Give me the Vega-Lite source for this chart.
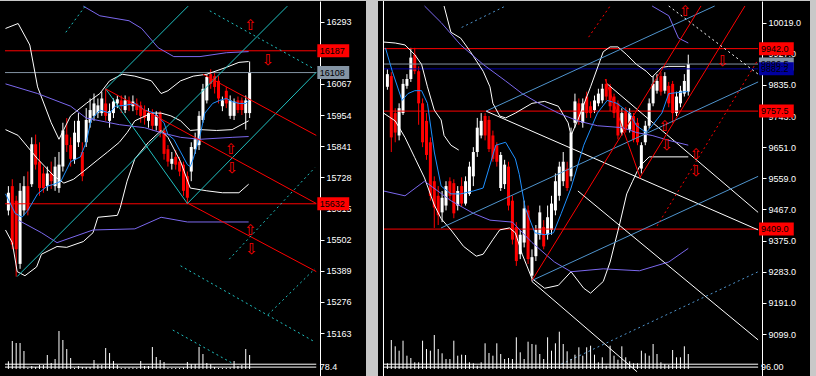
{
"$schema": "https://vega.github.io/schema/vega-lite/v6.json",
"background": "#c8c8c8",
"padding": {"left": 0, "top": 0, "right": 6, "bottom": 0},
"spacing": 12,
"config": {"view": {"fill": "#000000", "stroke": null}, "axis": {"labelOverlap": false, "labelBound": false, "labelFlush": false}},
"datasets": {
"L": [
{"i":0,"o":15608,"h":15696,"l":15590,"c":15672,"v":770},
{"i":1,"o":15696,"h":15721,"l":15467,"c":15484,"v":2800},
{"i":2,"o":15643,"h":15661,"l":15368,"c":15467,"v":2600},
{"i":3,"o":15414,"h":15707,"l":15396,"c":15679,"v":2600},
{"i":4,"o":15608,"h":15732,"l":15590,"c":15696,"v":1800},
{"i":5,"o":15696,"h":15749,"l":15590,"c":15608,"v":100},
{"i":6,"o":15703,"h":15873,"l":15693,"c":15848,"v":300},
{"i":7,"o":15848,"h":15883,"l":15756,"c":15774,"v":200},
{"i":8,"o":15785,"h":15855,"l":15661,"c":15689,"v":400},
{"i":9,"o":15742,"h":15767,"l":15672,"c":15689,"v":400},
{"i":10,"o":15696,"h":15767,"l":15679,"c":15742,"v":1400},
{"i":11,"o":15742,"h":15785,"l":15686,"c":15714,"v":600},
{"i":12,"o":15696,"h":15802,"l":15679,"c":15767,"v":1000},
{"i":13,"o":15689,"h":15820,"l":15672,"c":15774,"v":3800},
{"i":14,"o":15767,"h":15926,"l":15749,"c":15898,"v":2900},
{"i":15,"o":15883,"h":15943,"l":15820,"c":15845,"v":2000},
{"i":16,"o":15845,"h":15873,"l":15767,"c":15795,"v":1100},
{"i":17,"o":15792,"h":15933,"l":15777,"c":15890,"v":100},
{"i":18,"o":15855,"h":15961,"l":15838,"c":15933,"v":300},
{"i":19,"o":15820,"h":15855,"l":15714,"c":15732,"v":200},
{"i":20,"o":15855,"h":15979,"l":15838,"c":15936,"v":200},
{"i":21,"o":15926,"h":16014,"l":15908,"c":15972,"v":200},
{"i":22,"o":15951,"h":16032,"l":15933,"c":15996,"v":900},
{"i":23,"o":15961,"h":16014,"l":15943,"c":15989,"v":400},
{"i":24,"o":15961,"h":16039,"l":15951,"c":16014,"v":400},
{"i":25,"o":15996,"h":16049,"l":15933,"c":15951,"v":2100},
{"i":26,"o":15933,"h":15996,"l":15908,"c":15968,"v":1600},
{"i":27,"o":15961,"h":16014,"l":15943,"c":16003,"v":800},
{"i":28,"o":15996,"h":16025,"l":15979,"c":16011,"v":400},
{"i":29,"o":16007,"h":16025,"l":15961,"c":15986,"v":100},
{"i":30,"o":15972,"h":16025,"l":15961,"c":16007,"v":130},
{"i":31,"o":16007,"h":16021,"l":15968,"c":15989,"v":130},
{"i":32,"o":15986,"h":16025,"l":15968,"c":16003,"v":130},
{"i":33,"o":15996,"h":16014,"l":15954,"c":15972,"v":100},
{"i":34,"o":15989,"h":16003,"l":15926,"c":15951,"v":800},
{"i":35,"o":15972,"h":15989,"l":15919,"c":15943,"v":300},
{"i":36,"o":15933,"h":15979,"l":15908,"c":15961,"v":300},
{"i":37,"o":15961,"h":15975,"l":15898,"c":15915,"v":2200},
{"i":38,"o":15915,"h":15968,"l":15898,"c":15954,"v":1200},
{"i":39,"o":15961,"h":15968,"l":15873,"c":15890,"v":900},
{"i":40,"o":15898,"h":15908,"l":15792,"c":15813,"v":700},
{"i":41,"o":15830,"h":15845,"l":15767,"c":15785,"v":100},
{"i":42,"o":15777,"h":15820,"l":15756,"c":15795,"v":100},
{"i":43,"o":15802,"h":15827,"l":15756,"c":15774,"v":100},
{"i":44,"o":15785,"h":15802,"l":15732,"c":15749,"v":100},
{"i":45,"o":15774,"h":15785,"l":15661,"c":15679,"v":150},
{"i":46,"o":15732,"h":15749,"l":15633,"c":15654,"v":700},
{"i":47,"o":15749,"h":15855,"l":15714,"c":15838,"v":500},
{"i":48,"o":15830,"h":15890,"l":15813,"c":15866,"v":500},
{"i":49,"o":15845,"h":15968,"l":15827,"c":15951,"v":2200},
{"i":50,"o":15936,"h":16067,"l":15926,"c":16049,"v":1500},
{"i":51,"o":16007,"h":16102,"l":15996,"c":16092,"v":600},
{"i":52,"o":16102,"h":16120,"l":16049,"c":16067,"v":500},
{"i":53,"o":16095,"h":16109,"l":16032,"c":16056,"v":200},
{"i":54,"o":16078,"h":16095,"l":15996,"c":16014,"v":100},
{"i":55,"o":15986,"h":16021,"l":15968,"c":16007,"v":100},
{"i":56,"o":16042,"h":16056,"l":15979,"c":15996,"v":100},
{"i":57,"o":15951,"h":16025,"l":15940,"c":16007,"v":150},
{"i":58,"o":15951,"h":16014,"l":15936,"c":16003,"v":800},
{"i":59,"o":16007,"h":16021,"l":15961,"c":15972,"v":300},
{"i":60,"o":16007,"h":16018,"l":15954,"c":15972,"v":400},
{"i":61,"o":15961,"h":16025,"l":15901,"c":16007,"v":2000},
{"i":62,"o":15961,"h":16148,"l":15943,"c":16108,"v":1400}
],
"R": [
{"i":0,"o":9829.3,"h":9881.0,"l":9820.6,"c":9866.6,"v":570},
{"i":1,"o":9860.9,"h":9872.4,"l":9636.6,"c":9679.8,"v":2900},
{"i":2,"o":9751.6,"h":9766.0,"l":9665.4,"c":9694.1,"v":2270},
{"i":3,"o":9685.5,"h":9780.4,"l":9671.1,"c":9766.0,"v":1830},
{"i":4,"o":9751.6,"h":9852.3,"l":9745.9,"c":9837.9,"v":2830},
{"i":5,"o":9832.1,"h":9866.6,"l":9823.5,"c":9852.3,"v":1330},
{"i":6,"o":9852.3,"h":9944.3,"l":9843.6,"c":9915.5,"v":1100},
{"i":7,"o":9924.1,"h":9944.3,"l":9866.6,"c":9875.3,"v":670},
{"i":8,"o":9875.3,"h":9889.6,"l":9717.1,"c":9780.4,"v":670},
{"i":9,"o":9780.4,"h":9794.8,"l":9651.0,"c":9665.4,"v":2830},
{"i":10,"o":9728.6,"h":9751.6,"l":9613.6,"c":9628.0,"v":2000},
{"i":11,"o":9665.4,"h":9679.8,"l":9492.9,"c":9507.3,"v":1830},
{"i":12,"o":9550.4,"h":9564.8,"l":9412.4,"c":9472.8,"v":3400},
{"i":13,"o":9507.3,"h":9536.0,"l":9421.0,"c":9449.8,"v":2000},
{"i":14,"o":9458.4,"h":9521.6,"l":9429.6,"c":9501.5,"v":1570},
{"i":15,"o":9478.5,"h":9550.4,"l":9464.1,"c":9536.0,"v":1000},
{"i":16,"o":9550.4,"h":9561.9,"l":9492.9,"c":9507.3,"v":1000},
{"i":17,"o":9544.6,"h":9556.1,"l":9441.1,"c":9455.5,"v":2830},
{"i":18,"o":9478.5,"h":9536.0,"l":9464.1,"c":9521.6,"v":1330},
{"i":19,"o":9536.0,"h":9561.9,"l":9475.6,"c":9484.3,"v":1430},
{"i":20,"o":9484.3,"h":9564.8,"l":9478.5,"c":9550.4,"v":1400},
{"i":21,"o":9513.0,"h":9607.9,"l":9507.3,"c":9593.5,"v":670},
{"i":22,"o":9564.8,"h":9651.0,"l":9536.0,"c":9636.6,"v":570},
{"i":23,"o":9636.6,"h":9737.3,"l":9622.3,"c":9708.5,"v":330},
{"i":24,"o":9685.5,"h":9751.6,"l":9676.9,"c":9728.6,"v":670},
{"i":25,"o":9743.0,"h":9751.6,"l":9671.1,"c":9685.5,"v":2570},
{"i":26,"o":9731.5,"h":9743.0,"l":9636.6,"c":9645.3,"v":1600},
{"i":27,"o":9685.5,"h":9699.9,"l":9607.9,"c":9616.5,"v":1330},
{"i":28,"o":9656.8,"h":9665.4,"l":9593.5,"c":9607.9,"v":2570},
{"i":29,"o":9530.3,"h":9636.6,"l":9521.6,"c":9628.0,"v":1500},
{"i":30,"o":9541.8,"h":9613.6,"l":9527.4,"c":9599.3,"v":1000},
{"i":31,"o":9593.5,"h":9607.9,"l":9464.1,"c":9478.5,"v":1100},
{"i":32,"o":9492.9,"h":9507.3,"l":9363.5,"c":9377.9,"v":1000},
{"i":33,"o":9415.3,"h":9429.6,"l":9300.3,"c":9314.6,"v":3170},
{"i":34,"o":9334.8,"h":9406.6,"l":9320.4,"c":9392.3,"v":1670},
{"i":35,"o":9369.3,"h":9492.9,"l":9354.9,"c":9469.9,"v":1000},
{"i":36,"o":9464.1,"h":9478.5,"l":9306.0,"c":9320.4,"v":2730},
{"i":37,"o":9271.5,"h":9349.1,"l":9254.3,"c":9326.1,"v":2500},
{"i":38,"o":9329.0,"h":9421.0,"l":9314.6,"c":9406.6,"v":2430},
{"i":39,"o":9392.3,"h":9478.5,"l":9377.9,"c":9458.4,"v":1500},
{"i":40,"o":9415.3,"h":9435.4,"l":9349.1,"c":9357.8,"v":1000},
{"i":41,"o":9392.3,"h":9478.5,"l":9377.9,"c":9444.0,"v":3170},
{"i":42,"o":9406.6,"h":9507.3,"l":9392.3,"c":9484.3,"v":1830},
{"i":43,"o":9464.1,"h":9573.4,"l":9449.8,"c":9550.4,"v":2570},
{"i":44,"o":9507.3,"h":9607.9,"l":9492.9,"c":9593.5,"v":3730},
{"i":45,"o":9550.4,"h":9636.6,"l":9536.0,"c":9607.9,"v":2500},
{"i":46,"o":9587.8,"h":9607.9,"l":9521.6,"c":9530.3,"v":1770},
{"i":47,"o":9564.8,"h":9708.5,"l":9550.4,"c":9694.1,"v":1000},
{"i":48,"o":9722.9,"h":9809.1,"l":9708.5,"c":9786.1,"v":1430},
{"i":49,"o":9780.4,"h":9794.8,"l":9717.1,"c":9731.5,"v":2170},
{"i":50,"o":9722.9,"h":9794.8,"l":9708.5,"c":9780.4,"v":1330},
{"i":51,"o":9800.5,"h":9814.9,"l":9737.3,"c":9751.6,"v":2170},
{"i":52,"o":9771.8,"h":9786.1,"l":9737.3,"c":9751.6,"v":2330},
{"i":53,"o":9760.3,"h":9803.4,"l":9751.6,"c":9789.0,"v":1430},
{"i":54,"o":9780.4,"h":9823.5,"l":9771.8,"c":9809.1,"v":670},
{"i":55,"o":9789.0,"h":9837.9,"l":9780.4,"c":9823.5,"v":1170},
{"i":56,"o":9837.9,"h":9852.3,"l":9789.0,"c":9800.5,"v":330},
{"i":57,"o":9829.3,"h":9837.9,"l":9757.4,"c":9771.8,"v":2330},
{"i":58,"o":9800.5,"h":9809.1,"l":9737.3,"c":9751.6,"v":1330},
{"i":59,"o":9780.4,"h":9789.0,"l":9674.0,"c":9685.5,"v":930},
{"i":60,"o":9694.1,"h":9766.0,"l":9685.5,"c":9751.6,"v":2270},
{"i":61,"o":9757.4,"h":9768.9,"l":9694.1,"c":9702.8,"v":1170},
{"i":62,"o":9702.8,"h":9766.0,"l":9694.1,"c":9751.6,"v":770},
{"i":63,"o":9743.0,"h":9751.6,"l":9665.4,"c":9674.0,"v":570},
{"i":64,"o":9722.9,"h":9737.3,"l":9656.8,"c":9665.4,"v":570},
{"i":65,"o":9587.8,"h":9665.4,"l":9573.4,"c":9656.8,"v":1830},
{"i":66,"o":9665.4,"h":9728.6,"l":9656.8,"c":9714.3,"v":1570},
{"i":67,"o":9714.3,"h":9794.8,"l":9705.6,"c":9780.4,"v":1330},
{"i":68,"o":9780.4,"h":9860.9,"l":9771.8,"c":9837.9,"v":2500},
{"i":69,"o":9817.8,"h":9866.6,"l":9809.1,"c":9846.5,"v":1500},
{"i":70,"o":9860.9,"h":9872.4,"l":9803.4,"c":9814.9,"v":670},
{"i":71,"o":9817.8,"h":9872.4,"l":9809.1,"c":9860.9,"v":500},
{"i":72,"o":9832.1,"h":9843.6,"l":9768.9,"c":9780.4,"v":400},
{"i":73,"o":9837.9,"h":9846.5,"l":9722.9,"c":9751.6,"v":1900},
{"i":74,"o":9751.6,"h":9814.9,"l":9743.0,"c":9800.5,"v":1170},
{"i":75,"o":9780.4,"h":9832.1,"l":9768.9,"c":9817.8,"v":1170},
{"i":76,"o":9809.1,"h":9866.6,"l":9800.5,"c":9846.5,"v":2270},
{"i":77,"o":9814.9,"h":9924.1,"l":9803.4,"c":9896.5,"v":1500}
],
"LL": [
{"g":"U","k":"w","i":-0.75,"p":16268},{"g":"U","k":"w","i":2.5,"p":16286},{"g":"U","k":"w","i":5.5,"p":16208},{"g":"U","k":"w","i":7.5,"p":16056},{"g":"U","k":"w","i":11,"p":15926},{"g":"U","k":"w","i":13,"p":15866},{"g":"U","k":"w","i":16,"p":15951},{"g":"U","k":"w","i":20,"p":15996},{"g":"U","k":"w","i":23.5,"p":16032},{"g":"U","k":"w","i":26,"p":16078},{"g":"U","k":"w","i":29.25,"p":16102},{"g":"U","k":"w","i":32.5,"p":16095},{"g":"U","k":"w","i":36.75,"p":16078},{"g":"U","k":"w","i":39.25,"p":16032},{"g":"U","k":"w","i":41,"p":16042},{"g":"U","k":"w","i":44.25,"p":16078},{"g":"U","k":"w","i":47.5,"p":16095},{"g":"U","k":"w","i":51,"p":16102},{"g":"U","k":"w","i":56,"p":16127},{"g":"U","k":"w","i":59.25,"p":16145},{"g":"U","k":"w","i":61.75,"p":16148},
{"g":"M","k":"w","i":-0.75,"p":15901},{"g":"M","k":"w","i":2.5,"p":15880},{"g":"M","k":"w","i":7.5,"p":15795},{"g":"M","k":"w","i":11.75,"p":15732},{"g":"M","k":"w","i":14.25,"p":15707},{"g":"M","k":"w","i":16.75,"p":15721},{"g":"M","k":"w","i":19.25,"p":15749},{"g":"M","k":"w","i":23,"p":15792},{"g":"M","k":"w","i":25.5,"p":15820},{"g":"M","k":"w","i":28.5,"p":15855},{"g":"M","k":"w","i":30.5,"p":15890},{"g":"M","k":"w","i":32.5,"p":15933},{"g":"M","k":"w","i":36.75,"p":15961},{"g":"M","k":"w","i":39.25,"p":15961},{"g":"M","k":"w","i":41.75,"p":15951},{"g":"M","k":"w","i":44.25,"p":15933},{"g":"M","k":"w","i":46.75,"p":15898},{"g":"M","k":"w","i":49.25,"p":15901},{"g":"M","k":"w","i":53.5,"p":15898},{"g":"M","k":"w","i":57.5,"p":15901},{"g":"M","k":"w","i":61.75,"p":15933},
{"g":"L","k":"w","i":-0.75,"p":15537},{"g":"L","k":"w","i":1,"p":15491},{"g":"L","k":"w","i":2.25,"p":15386},{"g":"L","k":"w","i":4.25,"p":15371},{"g":"L","k":"w","i":7.25,"p":15403},{"g":"L","k":"w","i":8.5,"p":15449},{"g":"L","k":"w","i":12.5,"p":15477},{"g":"L","k":"w","i":15,"p":15474},{"g":"L","k":"w","i":19.25,"p":15495},{"g":"L","k":"w","i":21.75,"p":15527},{"g":"L","k":"w","i":23,"p":15583},{"g":"L","k":"w","i":28,"p":15590},{"g":"L","k":"w","i":28.75,"p":15618},{"g":"L","k":"w","i":30.5,"p":15714},{"g":"L","k":"w","i":32.5,"p":15795},{"g":"L","k":"w","i":36,"p":15855},{"g":"L","k":"w","i":39.25,"p":15898},{"g":"L","k":"w","i":41,"p":15873},{"g":"L","k":"w","i":44.25,"p":15785},{"g":"L","k":"w","i":46.75,"p":15689},{"g":"L","k":"w","i":51,"p":15679},{"g":"L","k":"w","i":55,"p":15672},{"g":"L","k":"w","i":59.25,"p":15672},{"g":"L","k":"w","i":61.75,"p":15703},
{"g":"B","k":"b","i":-0.75,"p":15668},{"g":"B","k":"b","i":1.75,"p":15597},{"g":"B","k":"b","i":3.5,"p":15583},{"g":"B","k":"b","i":5,"p":15608},{"g":"B","k":"b","i":7.5,"p":15668},{"g":"B","k":"b","i":10,"p":15696},{"g":"B","k":"b","i":11.75,"p":15703},{"g":"B","k":"b","i":13.5,"p":15714},{"g":"B","k":"b","i":16,"p":15785},{"g":"B","k":"b","i":18.5,"p":15802},{"g":"B","k":"b","i":20,"p":15855},{"g":"B","k":"b","i":21.25,"p":15936},{"g":"B","k":"b","i":23.5,"p":15972},{"g":"B","k":"b","i":26,"p":15961},{"g":"B","k":"b","i":27.5,"p":15986},{"g":"B","k":"b","i":30,"p":15989},{"g":"B","k":"b","i":32.5,"p":15996},{"g":"B","k":"b","i":35,"p":15972},{"g":"B","k":"b","i":37.5,"p":15961},{"g":"B","k":"b","i":40,"p":15926},{"g":"B","k":"b","i":41,"p":15883},{"g":"B","k":"b","i":42.5,"p":15866},{"g":"B","k":"b","i":44.25,"p":15820},{"g":"B","k":"b","i":46,"p":15774},{"g":"B","k":"b","i":46.75,"p":15767},{"g":"B","k":"b","i":47.5,"p":15795},{"g":"B","k":"b","i":49.25,"p":15880},{"g":"B","k":"b","i":50.5,"p":15961},{"g":"B","k":"b","i":52.5,"p":15996},{"g":"B","k":"b","i":54.25,"p":16007},{"g":"B","k":"b","i":56,"p":16014},{"g":"B","k":"b","i":57.5,"p":16003},{"g":"B","k":"b","i":59.25,"p":15996},{"g":"B","k":"b","i":61,"p":15996},{"g":"B","k":"b","i":61.75,"p":16007},
{"g":"PU","k":"p","i":19.25,"p":16349},{"g":"PU","k":"p","i":23.5,"p":16314},{"g":"PU","k":"p","i":31,"p":16296},{"g":"PU","k":"p","i":34.25,"p":16268},{"g":"PU","k":"p","i":38.5,"p":16198},{"g":"PU","k":"p","i":42.5,"p":16166},{"g":"PU","k":"p","i":49.25,"p":16166},{"g":"PU","k":"p","i":56,"p":16180},{"g":"PU","k":"p","i":61.75,"p":16184},
{"g":"PM","k":"p","i":-0.75,"p":16067},{"g":"PM","k":"p","i":7.5,"p":16032},{"g":"PM","k":"p","i":16,"p":15986},{"g":"PM","k":"p","i":20,"p":15943},{"g":"PM","k":"p","i":28.5,"p":15919},{"g":"PM","k":"p","i":35,"p":15908},{"g":"PM","k":"p","i":39.25,"p":15890},{"g":"PM","k":"p","i":44.25,"p":15873},{"g":"PM","k":"p","i":49.25,"p":15866},{"g":"PM","k":"p","i":57.5,"p":15873},{"g":"PM","k":"p","i":61.75,"p":15876},
{"g":"PL","k":"p","i":2.5,"p":15573},{"g":"PL","k":"p","i":8.5,"p":15527},{"g":"PL","k":"p","i":12.5,"p":15491},{"g":"PL","k":"p","i":21.75,"p":15537},{"g":"PL","k":"p","i":32.5,"p":15541},{"g":"PL","k":"p","i":39.25,"p":15583},{"g":"PL","k":"p","i":46,"p":15566},{"g":"PL","k":"p","i":61.75,"p":15566},
{"g":"C1","k":"c","i":2.25,"p":15368},{"g":"C1","k":"c","i":71.7,"p":16349},
{"g":"C2","k":"c","i":25,"p":16049},{"g":"C2","k":"c","i":46.2,"p":16349},
{"g":"C3","k":"c","i":46,"p":15633},{"g":"C3","k":"c","i":79.125,"p":16109},
{"g":"C4","k":"c","i":25,"p":16049},{"g":"C4","k":"c","i":46,"p":15633},
{"g":"R0","k":"r","i":50,"p":16102},{"g":"R0","k":"r","i":79.125,"p":15880},
{"g":"R1","k":"r","i":25,"p":16049},{"g":"R1","k":"r","i":79.125,"p":15633},
{"g":"R2","k":"r","i":46.25,"p":15633},{"g":"R2","k":"r","i":79.125,"p":15386}
],
"LD": [
{"g":"D1","k":"c","i":14.75,"p":16254},{"g":"D1","k":"c","i":19.75,"p":16349},
{"g":"D2","k":"c","i":51.75,"p":16332},{"g":"D2","k":"c","i":78.75,"p":16120},
{"g":"D3","k":"c","i":56.75,"p":15431},{"g":"D3","k":"c","i":78.75,"p":15763},
{"g":"D4","k":"c","i":44.25,"p":15407},{"g":"D4","k":"c","i":78.75,"p":15131},
{"g":"D5","k":"c","i":42.25,"p":15174},{"g":"D5","k":"c","i":57.5,"p":15054},
{"g":"D6","k":"c","i":66.75,"p":15230},{"g":"D6","k":"c","i":78.75,"p":15396}
],
"RL": [
{"g":"Wa","k":"w","i":14.5,"p":10067.9},{"g":"Wa","k":"w","i":16.25,"p":9990.3},{"g":"Wa","k":"w","i":18.75,"p":9973.0},{"g":"Wa","k":"w","i":21.25,"p":9932.8},{"g":"Wa","k":"w","i":24.5,"p":9875.3},{"g":"Wa","k":"w","i":26.25,"p":9829.3},{"g":"Wa","k":"w","i":27,"p":9780.4},{"g":"Wa","k":"w","i":28.75,"p":9743.0},{"g":"Wa","k":"w","i":30.25,"p":9737.3},{"g":"Wa","k":"w","i":32.75,"p":9751.6},{"g":"Wa","k":"w","i":37,"p":9780.4},{"g":"Wa","k":"w","i":40.25,"p":9786.1},{"g":"Wa","k":"w","i":43.75,"p":9771.8},{"g":"Wa","k":"w","i":46.25,"p":9722.9},{"g":"Wa","k":"w","i":47,"p":9685.5},{"g":"Wa","k":"w","i":48.75,"p":9731.5},{"g":"Wa","k":"w","i":52,"p":9829.3},{"g":"Wa","k":"w","i":55.25,"p":9932.8},{"g":"Wa","k":"w","i":57,"p":9947.1},{"g":"Wa","k":"w","i":59,"p":9947.1},{"g":"Wa","k":"w","i":61.25,"p":9924.1},{"g":"Wa","k":"w","i":63.75,"p":9895.4},{"g":"Wa","k":"w","i":66.25,"p":9875.3},{"g":"Wa","k":"w","i":67.75,"p":9858.0},{"g":"Wa","k":"w","i":70.25,"p":9886.8},{"g":"Wa","k":"w","i":72,"p":9889.6},{"g":"Wa","k":"w","i":76.25,"p":9889.6},
{"g":"Wb","k":"w","i":-1,"p":9961.5},{"g":"Wb","k":"w","i":2,"p":9958.6},{"g":"Wb","k":"w","i":4.5,"p":9952.9},{"g":"Wb","k":"w","i":7,"p":9924.1},{"g":"Wb","k":"w","i":8.75,"p":9895.4},{"g":"Wb","k":"w","i":10.25,"p":9829.3},{"g":"Wb","k":"w","i":12,"p":9760.3},{"g":"Wb","k":"w","i":13.75,"p":9731.5},{"g":"Wb","k":"w","i":14.5,"p":9685.5},{"g":"Wb","k":"w","i":16.25,"p":9656.8},{"g":"Wb","k":"w","i":18.25,"p":9642.4},
{"g":"Wl","k":"w","i":-1,"p":9751.6},{"g":"Wl","k":"w","i":2,"p":9728.6},{"g":"Wl","k":"w","i":4.5,"p":9679.8},{"g":"Wl","k":"w","i":7,"p":9620},{"g":"Wl","k":"w","i":9.5,"p":9560},{"g":"Wl","k":"w","i":12,"p":9480},{"g":"Wl","k":"w","i":13.75,"p":9440},{"g":"Wl","k":"w","i":16.25,"p":9406.6},{"g":"Wl","k":"w","i":19.5,"p":9357.8},{"g":"Wl","k":"w","i":22.75,"p":9329.0},{"g":"Wl","k":"w","i":24.5,"p":9334.8},{"g":"Wl","k":"w","i":27,"p":9377.9},{"g":"Wl","k":"w","i":28.75,"p":9406.6},{"g":"Wl","k":"w","i":31.25,"p":9412.4},{"g":"Wl","k":"w","i":32.75,"p":9398.0},{"g":"Wl","k":"w","i":34.5,"p":9334.8},{"g":"Wl","k":"w","i":37,"p":9262.9},{"g":"Wl","k":"w","i":40.25,"p":9234.2},{"g":"Wl","k":"w","i":43.75,"p":9242.8},{"g":"Wl","k":"w","i":47,"p":9283.0},{"g":"Wl","k":"w","i":50.25,"p":9234.2},{"g":"Wl","k":"w","i":52,"p":9219.8},{"g":"Wl","k":"w","i":55.25,"p":9254.3},{"g":"Wl","k":"w","i":57,"p":9311.8},{"g":"Wl","k":"w","i":59.5,"p":9426.8},{"g":"Wl","k":"w","i":61.25,"p":9513.0},{"g":"Wl","k":"w","i":62.75,"p":9550.4},{"g":"Wl","k":"w","i":64.5,"p":9593.5},{"g":"Wl","k":"w","i":67,"p":9622.3},{"g":"Wl","k":"w","i":77,"p":9622.3},
{"g":"WD1","k":"w","i":25.25,"p":9757.4},{"g":"WD1","k":"w","i":94.875,"p":9406.6},
{"g":"WD2","k":"w","i":48.75,"p":9521.6},{"g":"WD2","k":"w","i":94.875,"p":9081.8},
{"g":"WD3","k":"w","i":37,"p":9254.3},{"g":"WD3","k":"w","i":63.9,"p":8987.5},
{"g":"WD4","k":"w","i":56.25,"p":9837.9},{"g":"WD4","k":"w","i":94.875,"p":9458.4},
{"g":"BM","k":"b","i":-0.5,"p":9944.3},{"g":"BM","k":"b","i":1.25,"p":9875.3},{"g":"BM","k":"b","i":3.75,"p":9789.0},{"g":"BM","k":"b","i":5.25,"p":9809.1},{"g":"BM","k":"b","i":7,"p":9817.8},{"g":"BM","k":"b","i":8.75,"p":9817.8},{"g":"BM","k":"b","i":10.25,"p":9780.4},{"g":"BM","k":"b","i":12,"p":9636.6},{"g":"BM","k":"b","i":13.75,"p":9536.0},{"g":"BM","k":"b","i":16.25,"p":9513.0},{"g":"BM","k":"b","i":18.75,"p":9513.0},{"g":"BM","k":"b","i":22,"p":9521.6},{"g":"BM","k":"b","i":24.5,"p":9530.3},{"g":"BM","k":"b","i":27.75,"p":9656.8},{"g":"BM","k":"b","i":30.25,"p":9665.4},{"g":"BM","k":"b","i":32.75,"p":9616.5},{"g":"BM","k":"b","i":33.75,"p":9570.5},{"g":"BM","k":"b","i":35.25,"p":9472.8},{"g":"BM","k":"b","i":37.75,"p":9398.0},{"g":"BM","k":"b","i":40.25,"p":9392.3},{"g":"BM","k":"b","i":42.5,"p":9398.0},{"g":"BM","k":"b","i":44.5,"p":9455.5},{"g":"BM","k":"b","i":47,"p":9530.3},{"g":"BM","k":"b","i":50.25,"p":9656.8},{"g":"BM","k":"b","i":53.75,"p":9751.6},{"g":"BM","k":"b","i":56.25,"p":9789.0},{"g":"BM","k":"b","i":58.75,"p":9780.4},{"g":"BM","k":"b","i":62,"p":9751.6},{"g":"BM","k":"b","i":63.75,"p":9714.3},{"g":"BM","k":"b","i":66.25,"p":9694.1},{"g":"BM","k":"b","i":67.75,"p":9714.3},{"g":"BM","k":"b","i":70.25,"p":9751.6},{"g":"BM","k":"b","i":72,"p":9809.1},{"g":"BM","k":"b","i":76.25,"p":9814.9},{"g":"BM","k":"b","i":77,"p":9814.9},
{"g":"PM2","k":"p","i":9.5,"p":10067.9},{"g":"PM2","k":"p","i":13.75,"p":10019.0},{"g":"PM2","k":"p","i":18.75,"p":9952.9},{"g":"PM2","k":"p","i":24.5,"p":9895.4},{"g":"PM2","k":"p","i":30.25,"p":9846.5},{"g":"PM2","k":"p","i":34.5,"p":9809.1},{"g":"PM2","k":"p","i":38.75,"p":9780.4},{"g":"PM2","k":"p","i":43.75,"p":9751.6},{"g":"PM2","k":"p","i":48.75,"p":9728.6},{"g":"PM2","k":"p","i":53.75,"p":9714.3},{"g":"PM2","k":"p","i":60.25,"p":9708.5},{"g":"PM2","k":"p","i":63.75,"p":9694.1},{"g":"PM2","k":"p","i":67.75,"p":9685.5},{"g":"PM2","k":"p","i":72,"p":9671.1},{"g":"PM2","k":"p","i":77,"p":9656.8},
{"g":"PU2","k":"p","i":67.75,"p":10067.9},{"g":"PU2","k":"p","i":72,"p":10039.2},{"g":"PU2","k":"p","i":74.5,"p":9973.0},{"g":"PU2","k":"p","i":77,"p":9958.6},
{"g":"PL2","k":"p","i":-1,"p":9521.6},{"g":"PL2","k":"p","i":4.5,"p":9507.3},{"g":"PL2","k":"p","i":9.5,"p":9550.4},{"g":"PL2","k":"p","i":16.25,"p":9492.9},{"g":"PL2","k":"p","i":22,"p":9455.5},{"g":"PL2","k":"p","i":26.25,"p":9435.4},{"g":"PL2","k":"p","i":32,"p":9429.6},{"g":"PL2","k":"p","i":37,"p":9369.3},{"g":"PL2","k":"p","i":42.75,"p":9311.8},{"g":"PL2","k":"p","i":47,"p":9283.0},{"g":"PL2","k":"p","i":55.25,"p":9291.6},{"g":"PL2","k":"p","i":64.5,"p":9285.9},{"g":"PL2","k":"p","i":72,"p":9311.8},{"g":"PL2","k":"p","i":77,"p":9352.0},
{"g":"BL1","k":"s","i":25.25,"p":9757.4},{"g":"BL1","k":"s","i":83.75,"p":10067.9},
{"g":"BL3","k":"s","i":13.75,"p":9412.4},{"g":"BL3","k":"s","i":94.875,"p":9843.6},
{"g":"BL4","k":"s","i":37,"p":9257.2},{"g":"BL4","k":"s","i":94.875,"p":9564.8},
{"g":"RR1","k":"r","i":37,"p":9257.2},{"g":"RR1","k":"r","i":80.25,"p":10067.9},
{"g":"RR2","k":"r","i":64.5,"p":9559.0},{"g":"RR2","k":"r","i":91.5,"p":10067.9},
{"g":"RV","k":"r","i":55.75,"p":9852.3},{"g":"RV","k":"r","i":64.75,"p":9559.0}
],
"RD": [
{"g":"WDD","k":"w","i":72,"p":10067.9},{"g":"WDD","k":"w","i":94.875,"p":9866.6},
{"g":"BD1","k":"s","i":19,"p":10004.6},{"g":"BD1","k":"s","i":30.25,"p":10067.9},
{"g":"BD2","k":"s","i":44.5,"p":9009.9},{"g":"BD2","k":"s","i":94.875,"p":9283.0},
{"g":"RD1","k":"r","i":51.5,"p":9975.9},{"g":"RD1","k":"r","i":57,"p":10067.9},
{"g":"RD2","k":"r","i":69,"p":9418.2},{"g":"RD2","k":"r","i":94.875,"p":9909.8}
],
"LH": [{"p":16187,"k":"r","t":"16187"},{"p":16108,"k":"g","t":"16108"},{"p":15632,"k":"r","t":"15632"}],
"RH": [{"p":9942.0,"k":"r","t":"9942.0"},{"p":9896.5,"k":"g","t":"9896.5"},{"p":9882.2,"k":"n","t":"9882.2"},{"p":9757.5,"k":"r","t":"9757.5"},{"p":9409.0,"k":"r","t":"9409.0"}],
"LA": [{"i":62.25,"p":16282,"a":"⇧"},{"i":66.75,"p":16155,"a":"⇩"},{"i":57.25,"p":15830,"a":"⇧"},{"i":57.5,"p":15760,"a":"⇩"},{"i":62.25,"p":15537,"a":"⇧"},{"i":62.5,"p":15467,"a":"⇩"}],
"RA": [{"i":76.25,"p":10053.5,"a":"⇧"},{"i":85.75,"p":9904.0,"a":"⇩"},{"i":71,"p":9714.3,"a":"⇧"},{"i":71.5,"p":9656.8,"a":"⇩"},{"i":79,"p":9630.9,"a":"⇧"},{"i":79,"p":9579.2,"a":"⇩"}],
"LB": [{"p":15050},{"p":15039.5}],
"RB": [{"p":9009.9},{"p":9001.3}],
"LS": [{"t":"78.4","p":15022.5}],
"RS": [{"t":"96.00","p":8987.5}]
},
"hconcat": [
{
"width": 366, "height": 376,
"resolve": {"scale": {"y": "independent"}},
"layer": [
{"layer": [
{"data": {"name": "L"}, "mark": {"type": "rule", "strokeWidth": 1},
 "encoding": {
  "x": {"field": "i", "type": "quantitative", "scale": {"domain": [-0.875, 90.625], "nice": false, "zero": false}, "axis": null},
  "y": {"field": "l", "type": "quantitative", "scale": {"domain": [15021.75, 16349.5], "nice": false, "zero": false}, "title": null,
        "axis": {"orient": "right", "offset": -46, "values": [15163,15276,15389,15502,15615,15728,15841,15954,16067,16180,16293], "tickCount": 30, "format": "d", "labelExpr": "datum.value == 16180 ? '' : datum.label", "title": null, "grid": false, "domainColor": "#ffffff", "tickColor": "#ffffff", "tickSize": 4, "labelColor": "#ffffff", "labelFont": "Liberation Sans", "labelFontSize": 9, "labelPadding": 2, "labelOverlap": false, "labelBound": false, "labelFlush": false}},
  "y2": {"field": "h"},
  "color": {"condition": {"test": "datum.c < datum.o", "value": "#ff0000"}, "value": "#ffffff"}}},
{"data": {"name": "L"}, "mark": {"type": "bar", "size": 3},
 "encoding": {
  "x": {"field": "i", "type": "quantitative", "scale": {"domain": [-0.875, 90.625], "nice": false, "zero": false}, "axis": null},
  "y": {"field": "o", "type": "quantitative", "scale": {"domain": [15021.75, 16349.5], "nice": false, "zero": false}, "title": null},
  "y2": {"field": "c"},
  "color": {"condition": {"test": "datum.c < datum.o", "value": "#ff0000"}, "value": "#ffffff"}}},
{"data": {"name": "LH"}, "mark": {"type": "rule", "strokeWidth": 1},
 "encoding": {
  "x": {"datum": -0.875, "type": "quantitative", "axis": null},
  "x2": {"datum": 79.125},
  "y": {"field": "p", "type": "quantitative", "scale": {"domain": [15021.75, 16349.5], "nice": false, "zero": false}, "title": null},
  "color": {"field": "k", "type": "nominal", "legend": null, "scale": {"domain": ["w","b","p","c","r","s","g","n"], "range": ["#ffffff","#1e90ff","#7b68ee","#20c0c0","#ff0000","#4f94cd","#8494a4","#0000a0"]}}}},
{"data": {"name": "LL"}, "mark": {"type": "line", "strokeWidth": 1, "clip": true},
 "encoding": {
  "x": {"field": "i", "type": "quantitative", "scale": {"domain": [-0.875, 90.625], "nice": false, "zero": false}, "axis": null},
  "y": {"field": "p", "type": "quantitative", "scale": {"domain": [15021.75, 16349.5], "nice": false, "zero": false}, "title": null},
  "detail": {"field": "g"},
  "color": {"field": "k", "type": "nominal", "legend": null, "scale": {"domain": ["w","b","p","c","r","s","g","n"], "range": ["#ffffff","#1e90ff","#7b68ee","#20c0c0","#ff0000","#4f94cd","#8494a4","#0000a0"]}}}},
{"data": {"name": "LD"}, "mark": {"type": "line", "strokeWidth": 1, "strokeDash": [2, 3], "clip": true},
 "encoding": {
  "x": {"field": "i", "type": "quantitative", "scale": {"domain": [-0.875, 90.625], "nice": false, "zero": false}, "axis": null},
  "y": {"field": "p", "type": "quantitative", "scale": {"domain": [15021.75, 16349.5], "nice": false, "zero": false}, "title": null},
  "detail": {"field": "g"},
  "color": {"field": "k", "type": "nominal", "legend": null, "scale": {"domain": ["w","b","p","c","r","s","g","n"], "range": ["#ffffff","#1e90ff","#7b68ee","#20c0c0","#ff0000","#4f94cd","#8494a4","#0000a0"]}}}},
{"data": {"name": "LB"}, "mark": {"type": "rule", "color": "#ffffff", "strokeWidth": 1},
 "encoding": {
  "x": {"datum": -0.875, "type": "quantitative", "axis": null},
  "x2": {"datum": 79.125},
  "y": {"field": "p", "type": "quantitative", "scale": {"domain": [15021.75, 16349.5], "nice": false, "zero": false}, "title": null}}},
{"data": {"name": "LH"}, "mark": {"type": "bar", "size": 13},
 "encoding": {
  "x": {"datum": 79.4, "type": "quantitative", "axis": null},
  "x2": {"datum": 87.6},
  "y": {"field": "p", "type": "quantitative", "scale": {"domain": [15021.75, 16349.5], "nice": false, "zero": false}, "title": null},
  "color": {"field": "k", "type": "nominal", "legend": null, "scale": {"domain": ["w","b","p","c","r","s","g","n"], "range": ["#ffffff","#1e90ff","#7b68ee","#20c0c0","#ff0000","#4f94cd","#8494a4","#0000a0"]}}}},
{"data": {"name": "LH"}, "mark": {"type": "text", "align": "left", "baseline": "middle", "font": "Liberation Sans", "fontSize": 9, "color": "#000000"},
 "encoding": {
  "x": {"datum": 80.0, "type": "quantitative", "axis": null},
  "y": {"field": "p", "type": "quantitative", "scale": {"domain": [15021.75, 16349.5], "nice": false, "zero": false}, "title": null},
  "text": {"field": "t"}}},
{"data": {"name": "LA"}, "mark": {"type": "text", "align": "center", "baseline": "middle", "font": "DejaVu Sans", "fontSize": 15, "color": "#ff0000"},
 "encoding": {
  "x": {"field": "i", "type": "quantitative", "scale": {"domain": [-0.875, 90.625], "nice": false, "zero": false}, "axis": null},
  "y": {"field": "p", "type": "quantitative", "scale": {"domain": [15021.75, 16349.5], "nice": false, "zero": false}, "title": null},
  "text": {"field": "a"}}},
{"data": {"name": "LS"}, "mark": {"type": "text", "align": "left", "baseline": "bottom", "font": "Liberation Sans", "fontSize": 9, "color": "#ffffff"},
 "encoding": {
  "x": {"datum": 80.0, "type": "quantitative", "axis": null},
  "y": {"field": "p", "type": "quantitative", "scale": {"domain": [15021.75, 16349.5], "nice": false, "zero": false}, "title": null},
  "text": {"field": "t"}}}
]},
{"data": {"name": "L"}, "mark": {"type": "rule", "color": "#ffffff", "strokeWidth": 1},
 "encoding": {
  "x": {"field": "i", "type": "quantitative", "scale": {"domain": [-0.875, 90.625], "nice": false, "zero": false}, "axis": null},
  "y": {"field": "v", "type": "quantitative", "scale": {"domain": [-800, 36800], "nice": false, "zero": false}, "axis": null},
  "y2": {"datum": 0}}}
]
},
{
"width": 432, "height": 376,
"resolve": {"scale": {"y": "independent"}},
"layer": [
{"layer": [
{"data": {"name": "R"}, "mark": {"type": "rule", "strokeWidth": 1},
 "encoding": {
  "x": {"field": "i", "type": "quantitative", "scale": {"domain": [-1.125, 106.875], "nice": false, "zero": false}, "axis": null},
  "y": {"field": "l", "type": "quantitative", "scale": {"domain": [8986.9, 10067.9], "nice": false, "zero": false}, "title": null,
        "axis": {"orient": "right", "offset": -48, "values": [9099,9191,9283,9375,9467,9559,9651,9743,9835,9927,10019], "tickCount": 30, "format": ".1f", "title": null, "grid": false, "domainColor": "#ffffff", "tickColor": "#ffffff", "tickSize": 4, "labelColor": "#ffffff", "labelFont": "Liberation Sans", "labelFontSize": 9, "labelPadding": 2, "labelOverlap": false, "labelBound": false, "labelFlush": false}},
  "y2": {"field": "h"},
  "color": {"condition": {"test": "datum.c < datum.o", "value": "#ff0000"}, "value": "#ffffff"}}},
{"data": {"name": "R"}, "mark": {"type": "bar", "size": 3},
 "encoding": {
  "x": {"field": "i", "type": "quantitative", "scale": {"domain": [-1.125, 106.875], "nice": false, "zero": false}, "axis": null},
  "y": {"field": "o", "type": "quantitative", "scale": {"domain": [8986.9, 10067.9], "nice": false, "zero": false}, "title": null},
  "y2": {"field": "c"},
  "color": {"condition": {"test": "datum.c < datum.o", "value": "#ff0000"}, "value": "#ffffff"}}},
{"data": {"name": "RH"}, "mark": {"type": "rule", "strokeWidth": 1},
 "encoding": {
  "x": {"datum": -1.125, "type": "quantitative", "axis": null},
  "x2": {"datum": 94.875},
  "y": {"field": "p", "type": "quantitative", "scale": {"domain": [8986.9, 10067.9], "nice": false, "zero": false}, "title": null},
  "color": {"field": "k", "type": "nominal", "legend": null, "scale": {"domain": ["w","b","p","c","r","s","g","n"], "range": ["#ffffff","#1e90ff","#7b68ee","#20c0c0","#ff0000","#4f94cd","#8494a4","#0000a0"]}}}},
{"data": {"name": "RL"}, "mark": {"type": "line", "strokeWidth": 1, "clip": true},
 "encoding": {
  "x": {"field": "i", "type": "quantitative", "scale": {"domain": [-1.125, 106.875], "nice": false, "zero": false}, "axis": null},
  "y": {"field": "p", "type": "quantitative", "scale": {"domain": [8986.9, 10067.9], "nice": false, "zero": false}, "title": null},
  "detail": {"field": "g"},
  "color": {"field": "k", "type": "nominal", "legend": null, "scale": {"domain": ["w","b","p","c","r","s","g","n"], "range": ["#ffffff","#1e90ff","#7b68ee","#20c0c0","#ff0000","#4f94cd","#8494a4","#0000a0"]}}}},
{"data": {"name": "RD"}, "mark": {"type": "line", "strokeWidth": 1, "strokeDash": [2, 3], "clip": true},
 "encoding": {
  "x": {"field": "i", "type": "quantitative", "scale": {"domain": [-1.125, 106.875], "nice": false, "zero": false}, "axis": null},
  "y": {"field": "p", "type": "quantitative", "scale": {"domain": [8986.9, 10067.9], "nice": false, "zero": false}, "title": null},
  "detail": {"field": "g"},
  "color": {"field": "k", "type": "nominal", "legend": null, "scale": {"domain": ["w","b","p","c","r","s","g","n"], "range": ["#ffffff","#1e90ff","#7b68ee","#20c0c0","#ff0000","#4f94cd","#8494a4","#0000a0"]}}}},
{"data": {"name": "RB"}, "mark": {"type": "rule", "color": "#ffffff", "strokeWidth": 1},
 "encoding": {
  "x": {"datum": -1.125, "type": "quantitative", "axis": null},
  "x2": {"datum": 94.875},
  "y": {"field": "p", "type": "quantitative", "scale": {"domain": [8986.9, 10067.9], "nice": false, "zero": false}, "title": null}}},
{"data": {"name": "RB"}, "mark": {"type": "rule", "color": "#ffffff", "strokeWidth": 1},
 "encoding": {
  "x": {"datum": -1.0, "type": "quantitative", "axis": null}}},
{"data": {"name": "RH"}, "mark": {"type": "bar", "size": 13},
 "encoding": {
  "x": {"datum": 95.1, "type": "quantitative", "axis": null},
  "x2": {"datum": 104.0},
  "y": {"field": "p", "type": "quantitative", "scale": {"domain": [8986.9, 10067.9], "nice": false, "zero": false}, "title": null},
  "color": {"field": "k", "type": "nominal", "legend": null, "scale": {"domain": ["w","b","p","c","r","s","g","n"], "range": ["#ffffff","#1e90ff","#7b68ee","#20c0c0","#ff0000","#4f94cd","#8494a4","#0000a0"]}}}},
{"data": {"name": "RH"}, "mark": {"type": "text", "align": "left", "baseline": "middle", "font": "Liberation Sans", "fontSize": 9, "color": "#000000"},
 "encoding": {
  "x": {"datum": 95.6, "type": "quantitative", "axis": null},
  "y": {"field": "p", "type": "quantitative", "scale": {"domain": [8986.9, 10067.9], "nice": false, "zero": false}, "title": null},
  "text": {"field": "t"}}},
{"data": {"name": "RA"}, "mark": {"type": "text", "align": "center", "baseline": "middle", "font": "DejaVu Sans", "fontSize": 15, "color": "#ff0000"},
 "encoding": {
  "x": {"field": "i", "type": "quantitative", "scale": {"domain": [-1.125, 106.875], "nice": false, "zero": false}, "axis": null},
  "y": {"field": "p", "type": "quantitative", "scale": {"domain": [8986.9, 10067.9], "nice": false, "zero": false}, "title": null},
  "text": {"field": "a"}}},
{"data": {"name": "RS"}, "mark": {"type": "text", "align": "left", "baseline": "bottom", "font": "Liberation Sans", "fontSize": 9, "color": "#ffffff"},
 "encoding": {
  "x": {"datum": 95.6, "type": "quantitative", "axis": null},
  "y": {"field": "p", "type": "quantitative", "scale": {"domain": [8986.9, 10067.9], "nice": false, "zero": false}, "title": null},
  "text": {"field": "t"}}}
]},
{"data": {"name": "R"}, "mark": {"type": "rule", "color": "#ffffff", "strokeWidth": 1},
 "encoding": {
  "x": {"field": "i", "type": "quantitative", "scale": {"domain": [-1.125, 106.875], "nice": false, "zero": false}, "axis": null},
  "y": {"field": "v", "type": "quantitative", "scale": {"domain": [-800, 36800], "nice": false, "zero": false}, "axis": null},
  "y2": {"datum": 0}}}
]
}
]
}
